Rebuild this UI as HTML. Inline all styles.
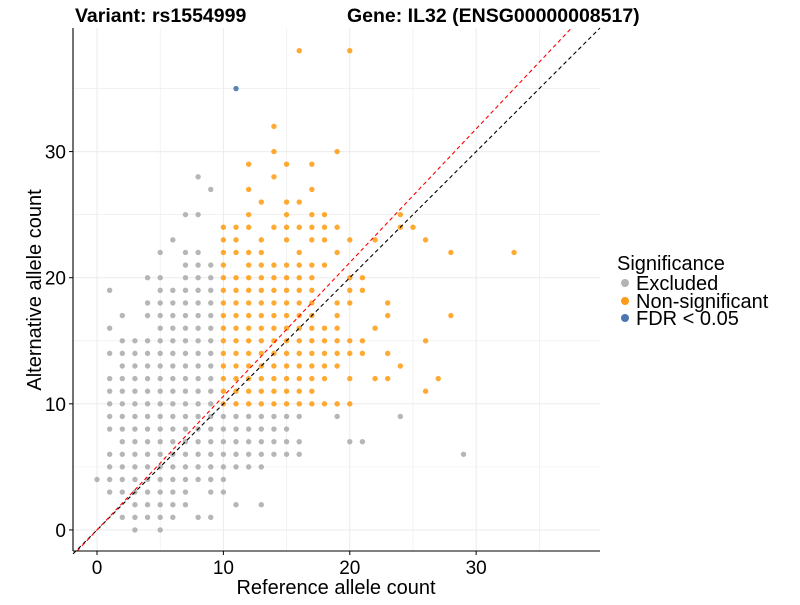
<!DOCTYPE html>
<html><head><meta charset="utf-8"><style>
body{margin:0;background:#fff;font-family:"Liberation Sans",sans-serif}
svg text{font-family:"Liberation Sans",sans-serif}
</style></head><body>
<svg id="chart" width="800" height="600" xmlns="http://www.w3.org/2000/svg">
<g id="grid"></g>
<g id="points"></g>
<g id="lines"></g>
<g id="axes"></g>
<text x="75" y="22" font-size="19.5" font-weight="bold">Variant: rs1554999</text>
<text x="347" y="22" font-size="19.5" font-weight="bold">Gene: IL32 (ENSG00000008517)</text>
<text x="336" y="594" font-size="20" text-anchor="middle">Reference allele count</text>
<text transform="translate(41,290) rotate(-90)" font-size="20" text-anchor="middle">Alternative allele count</text>
<g>
<text x="617" y="270" font-size="20">Significance</text>
<circle cx="625" cy="283" r="4" fill="#b3b3b3"/>
<text x="636" y="290" font-size="20">Excluded</text>
<circle cx="625" cy="301" r="4" fill="#ff9a1a"/>
<text x="636" y="308" font-size="20">Non-significant</text>
<circle cx="625" cy="318" r="4" fill="#4a77ad"/>
<text x="636" y="325" font-size="20">FDR &lt; 0.05</text>
</g>
</svg>
<script>
const xTicks=[0,10,20,30];
const yTicks=[0,10,20,30];
const excludedRows=[[0,[3,5]],[1,[2,3,4,5,6,8,9]],[2,[3,4,5,6,7,11,13]],[3,[1,2,3,4,5,6,7,9,10]],[4,[0,1,2,3,4,5,6,7,8,9,10]],[5,[1,2,3,4,5,6,7,8,9,10,11,12,13]],[6,[1,2,3,4,5,6,7,8,9,10,11,12,13,14,15,16,29]],[7,[2,3,4,5,6,7,8,9,10,11,12,13,14,15,16,20,21]],[8,[1,2,3,4,5,6,7,8,9,10,11,12,13,14,15]],[9,[1,2,3,4,5,6,7,8,9,10,11,12,13,14,15,16,19,24]],[10,[1,2,3,4,5,6,7,8,9]],[11,[1,2,3,4,5,6,7,8,9]],[12,[1,2,3,4,5,6,7,8,9]],[13,[2,3,4,5,6,7,8,9]],[14,[1,2,3,4,5,6,7,8,9]],[15,[2,3,4,5,6,7,8,9]],[16,[1,5,6,7,8,9]],[17,[2,4,5,6,7,8,9]],[18,[4,5,6,7,8,9]],[19,[1,5,6,7,8,9]],[20,[4,5,7,8,9]],[21,[7,8,9]],[22,[5,7,8]],[23,[6]],[25,[7,8]],[27,[9]],[28,[8]]];
const nonsigRows=[[10,[10,11,12,13,14,15,16,17,18,19,20]],[11,[10,11,12,13,14,15,16,17,26]],[12,[10,11,12,13,14,15,16,17,18,20,22,23,27]],[13,[10,11,12,13,14,15,16,17,18,19,24]],[14,[10,11,12,13,14,15,16,17,18,19,20,21,23]],[15,[10,11,12,13,14,15,16,17,18,19,20,21,26]],[16,[10,11,12,13,14,15,16,17,18,19,22]],[17,[10,11,12,13,14,15,16,17,19,23,28]],[18,[10,11,12,13,14,15,16,17,19,20,23]],[19,[10,11,12,13,14,15,16,17,20,21]],[20,[10,11,12,13,14,15,16,17,20,21]],[21,[10,12,13,14,15,16,17,18]],[22,[10,11,12,13,16,19,28,33]],[23,[10,11,13,15,17,18,20,22,26]],[24,[10,11,12,14,15,16,17,18,19,24,25]],[25,[12,15,17,18,24]],[26,[13,15,16]],[27,[12,17]],[28,[14]],[29,[12,15,17]],[30,[14,19]],[32,[14]],[38,[16,20]]];
const fdrRows=[[35,[11]]];
const redSlope=1.06;
const X0=-1.9,X1=39.8,Y0=-1.67,Y1=39.8;
const L=73,R=600,T=28,B=551;
const sx=v=>L+(v-X0)/(X1-X0)*(R-L);
const sy=v=>B-(v-Y0)/(Y1-Y0)*(B-T);
const NS="http://www.w3.org/2000/svg";
function mk(tag,a,parent){const e=document.createElementNS(NS,tag);for(const k in a)e.setAttribute(k,a[k]);parent.appendChild(e);return e;}
const grid=document.getElementById('grid');
for(let v=0;v<=35;v+=5){
 const g1=mk('line',{x1:sx(v),x2:sx(v),y1:T,y2:B,stroke:'#ebebeb','stroke-width':v%10?0.6:1},grid);
 
 
 const g2=mk('line',{x1:L,x2:R,y1:sy(v),y2:sy(v),stroke:'#ebebeb','stroke-width':v%10?0.6:1},grid);
 
 
}
const pts=document.getElementById('points');
function drawRows(rows,color,name,op){
 rows.forEach(([y,xs])=>xs.forEach(x=>{
  const c=mk('circle',{cx:sx(x),cy:sy(y),r:2.7,fill:color,opacity:op},pts);
  
  
 }));
}
drawRows(excludedRows,'#a9a9a9','point-excluded',0.85);
drawRows(nonsigRows,'#ff9500','point-nonsignificant',0.8);
drawRows(fdrRows,'#3e6fa8','point-fdr',0.85);
const lines=document.getElementById('lines');
const bl=mk('line',{x1:sx(X0),y1:sy(X0),x2:sx(Y1),y2:sy(Y1),stroke:'#000','stroke-width':1.1,'stroke-dasharray':'4,3'},lines);


const rx=Y1/redSlope;
const rl=mk('line',{x1:sx(Y0/redSlope),y1:sy(Y0),x2:sx(rx),y2:sy(Y1),stroke:'#ff0000','stroke-width':1.1,'stroke-dasharray':'4,3'},lines);


const ax=document.getElementById('axes');
const ya=mk('line',{x1:L,x2:L,y1:T,y2:B,stroke:'#000','stroke-width':1.1},ax);


const xa=mk('line',{x1:L,x2:R,y1:B,y2:B,stroke:'#000','stroke-width':1.1},ax);


xTicks.forEach(v=>{
 const t=mk('line',{x1:sx(v),x2:sx(v),y1:B,y2:B+4,stroke:'#000'},ax);
 
 
 const l=mk('text',{x:sx(v),y:B+23,'font-size':19,'text-anchor':'middle',fill:'#000'},ax);
 l.textContent=v;
 
 
});
yTicks.forEach(v=>{
 const t=mk('line',{x1:L-4,x2:L,y1:sy(v),y2:sy(v),stroke:'#000'},ax);
 
 
 const l=mk('text',{x:L-7,y:sy(v)+7,'font-size':19,'text-anchor':'end',fill:'#000'},ax);
 l.textContent=v;
 
 
});
</script>
</body></html>
